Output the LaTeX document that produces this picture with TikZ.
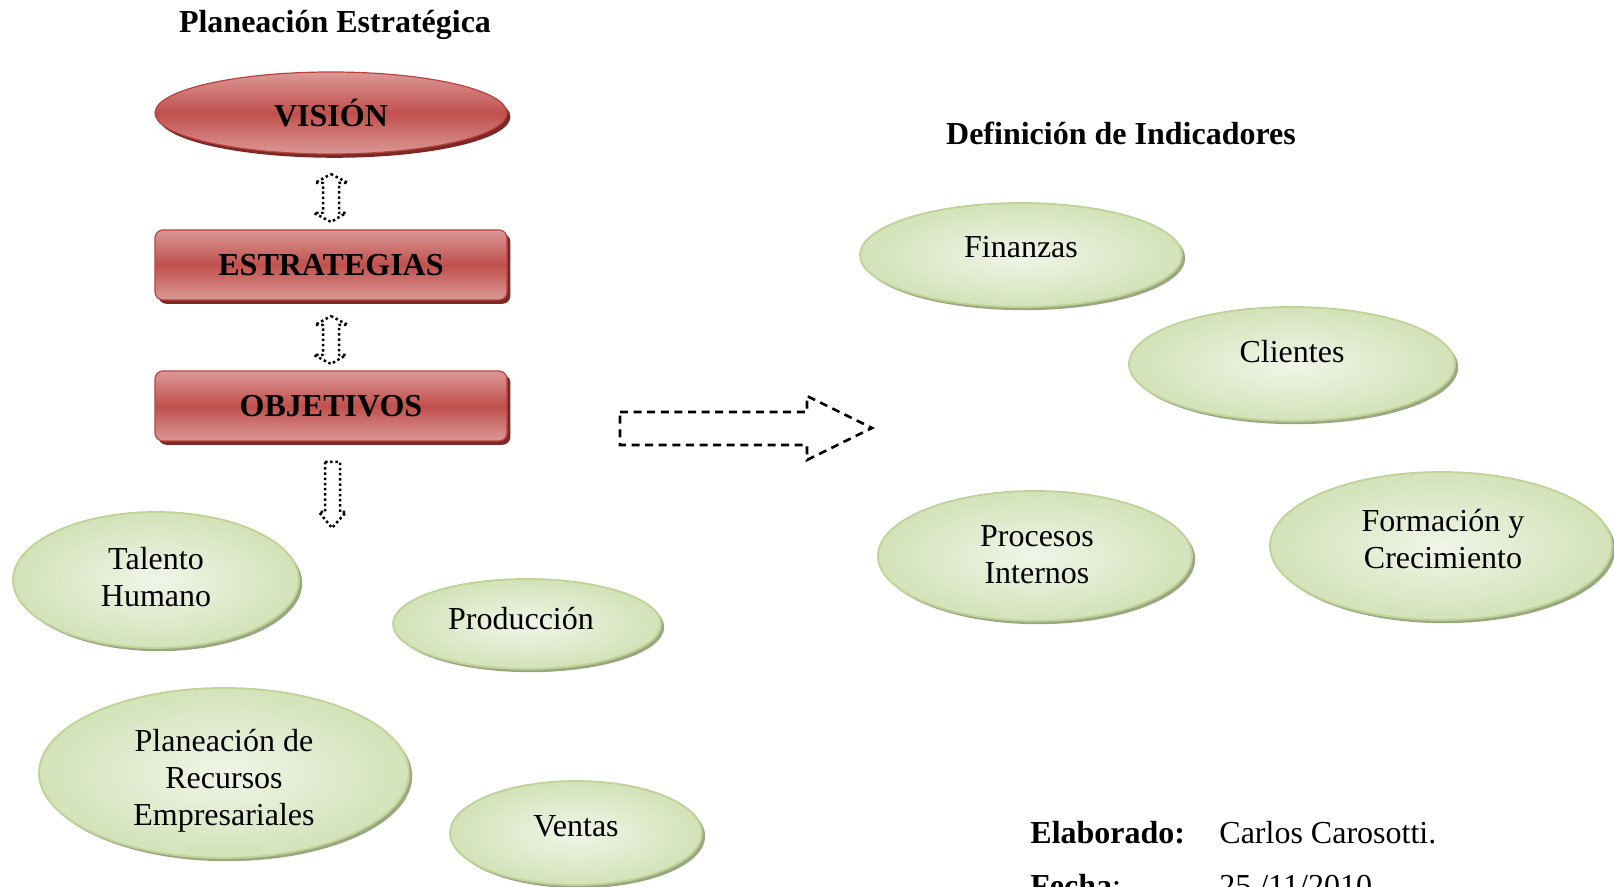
\documentclass[tikz,border=0pt]{standalone}
\usepackage{fontspec}
\setmainfont{Liberation Serif}
\usetikzlibrary{shapes.geometric,shadows}

\definecolor{redmid}{HTML}{C0504D}
\definecolor{redlight}{HTML}{DB9896}
\definecolor{redline}{HTML}{B9423F}
\definecolor{redshadow}{HTML}{7E2826}
\definecolor{greenedge}{HTML}{D3E2B8}
\definecolor{greencore}{HTML}{F0F5E8}
\definecolor{greenline}{HTML}{BFD396}
\definecolor{greenshadow}{HTML}{9AA882}

\tikzset{
  every node/.style={font=\fontsize{16}{18.5}\selectfont, inner sep=0pt},
  boldtext/.style={font=\fontsize{16}{18.5}\selectfont\bfseries},
  plaintext/.style={align=center},
  redfill/.style={top color=redlight, bottom color=redlight, middle color=redmid,
    draw=redline, line width=0.6pt,
    drop shadow={shadow xshift=1.7pt, shadow yshift=-1.9pt, fill=redshadow, opacity=1}},
  redoval/.style={redfill, ellipse, boldtext},
  redbox/.style={redfill, rectangle, rounded corners=4pt, boldtext},
  greenoval/.style={ellipse, inner color=greencore, outer color=greenedge,
    draw=greenline, line width=0.9pt,
    drop shadow={shadow xshift=1.6pt, shadow yshift=-1.6pt, fill=greenshadow, opacity=1}},
  dotarrow/.style={draw, line width=1.25pt, dash pattern=on 1.25pt off 1.35pt, line join=round},
  dasharrow/.style={draw, line width=1.3pt, dash pattern=on 4pt off 2.8pt},
  updown/.pic={
    \path[dotarrow] (0,-24) -- (17,-15) -- (8,-15) -- (8,15) -- (15,15) -- (0,24)
      -- (-17,15) -- (-8,15) -- (-8,-15) -- (-16,-15) -- cycle;
  }
}

\begin{document}
\begin{tikzpicture}[x=0.5pt, y=-0.5pt]
\path[use as bounding box, clip] (0,0) rectangle (1614,887);

% ---- Planeación Estratégica ----
\node[boldtext] (t-plan) at (335,25) {Planeación Estratégica};

\node[redoval, minimum width=176pt, minimum height=41pt] (vis) at (331,113) {VISIÓN};
\node[redbox, minimum width=176pt, minimum height=35pt] (est) at (331,265) {ESTRATEGIAS};
\node[redbox, minimum width=176pt, minimum height=35pt] (obj) at (331,406) {OBJETIVOS};

\pic at (331,198) {updown};
\pic at (331,340) {updown};

% downward arrow below the objectives
\path[dotarrow] (325,462) -- (340,462) -- (340,512) -- (346,512) -- (332,528)
  -- (319,512) -- (325,512) -- cycle;

% areas of the company
\node[greenoval, minimum width=143pt, minimum height=68pt] (tal) at (156,580) {};
\node[plaintext] (tal-t) at (156,577) {Talento\\Humano};

\node[greenoval, minimum width=134pt, minimum height=45pt] (pro) at (527,624) {};
\node[plaintext] (pro-t) at (521,619) {Producción};

\node[greenoval, minimum width=185pt, minimum height=85pt] (pla) at (224,773) {};
\node[plaintext] (pla-t) at (224,781) {Planeación de\\Recursos\\Empresariales};

\node[greenoval, minimum width=126pt, minimum height=52pt] (ven) at (576,833) {};
\node[plaintext] (ven-t) at (576,826) {Ventas};

% big dashed arrow towards the indicators
\path[dasharrow] (620,412) -- (807,412) -- (807,396) -- (872,428) -- (807,460)
  -- (807,445) -- (620,445) -- cycle;

% ---- Definición de Indicadores ----
\node[boldtext] (t-ind) at (1121,133) {Definición de Indicadores};

\node[greenoval, minimum width=161pt, minimum height=52pt] (fin) at (1021,255) {};
\node[plaintext] (fin-t) at (1021,247) {Finanzas};

\node[greenoval, minimum width=163pt, minimum height=57pt] (cli) at (1292,364) {};
\node[plaintext] (cli-t) at (1292,352) {Clientes};

\node[greenoval, minimum width=157pt, minimum height=65pt] (proc) at (1035,556) {};
\node[plaintext] (proc-t) at (1037,555) {Procesos\\Internos};

\node[greenoval, minimum width=171pt, minimum height=74pt] (for) at (1441,546) {};
\node[plaintext] (for-t) at (1443,539) {Formación y\\Crecimiento};

% ---- author and date ----
\node[boldtext, anchor=base west] (elab) at (1030,843) {Elaborado:};
\node[anchor=base west] (autor) at (1219,843) {Carlos Carosotti.};
\node[anchor=base west] (fecha) at (1030,897) {\textbf{Fecha}:};
\node[anchor=base west] (dia) at (1219,897) {25 /11/2010};
\end{tikzpicture}
\end{document}
